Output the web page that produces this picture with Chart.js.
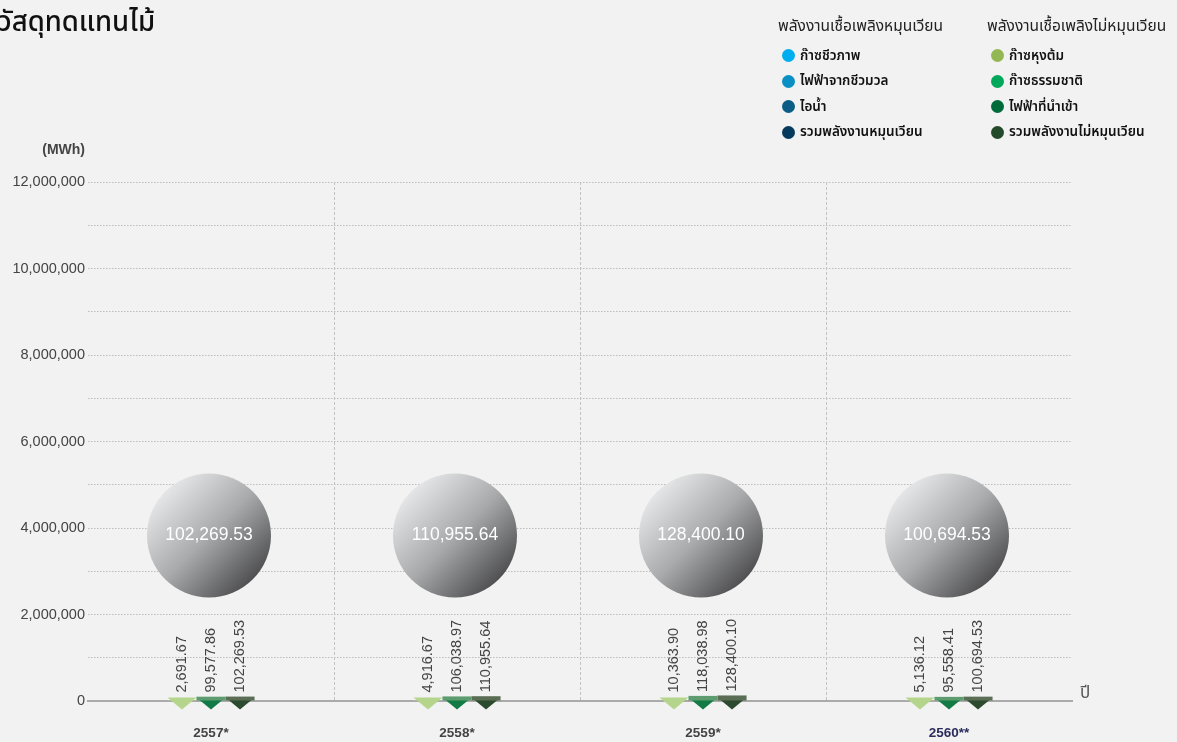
<!DOCTYPE html>
<html lang="th">
<head>
<meta charset="UTF-8">
<title>วัสดุทดแทนไม้</title>
<script src="https://cdn.jsdelivr.net/npm/chart.js@4.4.1/dist/chart.umd.min.js"></script>
<style>
  html, body { margin: 0; padding: 0; background: #f2f2f2; }
  body { width: 1177px; height: 742px; position: relative; overflow: hidden;
         font-family: "Noto Sans Thai", "Noto Sans", sans-serif; }
  #wrap { position: absolute; left: 0; top: 0; width: 1177px; height: 742px; }
  h1 { position: absolute; left: -2px; top: 6px; margin: 0; font-size: 27.5px; line-height: 34px;
       font-weight: 500; color: #111; z-index: 2; }
  .lg { position: absolute; top: 17px; z-index: 2; }
  .lg h2 { margin: 0 0 6px; font-size: 15.5px; line-height: 20px; font-weight: 400; color: #222; white-space: nowrap; }
  .lg ul { list-style: none; margin: 0; padding: 0 0 0 4px; }
  .lg li { height: 25.5px; display: flex; align-items: center; font-size: 13.5px; font-weight: 600; color: #111; white-space: nowrap; }
  .lg li i { display: inline-block; width: 13px; height: 13px; border-radius: 50%; margin-right: 5px; }
</style>
</head>
<body>
<h1>วัสดุทดแทนไม้</h1>
<div class="lg" id="lg1" style="left:778px"></div>
<div class="lg" id="lg2" style="left:987px"></div>
<div id="wrap"><canvas id="chart" width="1177" height="742"></canvas></div>
<script>
// ปี
var years = ['2557*', '2558*', '2559*', '2560**'];

// legend
var renewableTitle = 'พลังงานเชื้อเพลิงหมุนเวียน';
var renewableNames = ['ก๊าซชีวภาพ', 'ไฟฟ้าจากชีวมวล', 'ไอน้ำ', 'รวมพลังงานหมุนเวียน'];
var renewableColors = ['#00aeef', '#0a8fc4', '#0b5d86', '#063a5c'];
var nonRenewableTitle = 'พลังงานเชื้อเพลิงไม่หมุนเวียน';
var nonRenewableNames = ['ก๊าซหุงต้ม', 'ก๊าซธรรมชาติ', 'ไฟฟ้าที่นำเข้า', 'รวมพลังงานไม่หมุนเวียน'];
var nonRenewableColors = ['#93b853', '#00a85a', '#006b3a', '#234a2a'];

// MWh
var lpg = [2691.67, 4916.67, 10363.90, 5136.12];
var importedPower = [99577.86, 106038.97, 118038.98, 95558.41];
var totalNonRenewable = [102269.53, 110955.64, 128400.10, 100694.53];

var yMax = 12000000;
var yStep = 1000000;

function fillLegend(id, title, names, colors) {
    var el = document.getElementById(id);
    var html = '<h2>' + title + '</h2><ul>';
    for (var i = 0; i < names.length; i++) {
        html += '<li><i style="background:' + colors[i] + '"></i>' + names[i] + '</li>';
    }
    el.innerHTML = html + '</ul>';
}
fillLegend('lg1', renewableTitle, renewableNames, renewableColors);
fillLegend('lg2', nonRenewableTitle, nonRenewableNames, nonRenewableColors);

function fmt(v) {
    return v.toLocaleString('en-US', {minimumFractionDigits: 2, maximumFractionDigits: 2});
}

var numFont = '"Liberation Sans", Arial, sans-serif';

var decor = {
    id: 'decor',
    beforeDatasetsDraw: function(chart) {
        var ctx = chart.ctx, area = chart.chartArea, x = chart.scales.x;
        // วงกลมยอดรวม
        var cy = area.top + (area.bottom - area.top) * 0.681;
        var r = 62;
        for (var i = 0; i < years.length; i++) {
            var cx = x.getPixelForValue(i) - 2;
            var g = ctx.createLinearGradient(cx - r * 0.75, cy - r * 0.75, cx + r * 0.75, cy + r * 0.75);
            g.addColorStop(0, '#e8e9eb');
            g.addColorStop(0.5, '#a9aaac');
            g.addColorStop(1, '#4b4b4d');
            ctx.save();
            ctx.beginPath();
            ctx.arc(cx, cy, r, 0, Math.PI * 2);
            ctx.fillStyle = g;
            ctx.fill();
            ctx.fillStyle = '#fff';
            ctx.font = '17.5px ' + numFont;
            ctx.textAlign = 'center';
            ctx.textBaseline = 'middle';
            ctx.fillText(fmt(totalNonRenewable[i]), cx, cy);
            ctx.restore();
        }
        // สามเหลี่ยมใต้แกน
        chart.data.datasets.forEach(function(ds, di) {
            var meta = chart.getDatasetMeta(di);
            meta.data.forEach(function(el) {
                var w = el.width, b = el.base;
                ctx.save();
                ctx.beginPath();
                ctx.moveTo(el.x - w / 2, b - 3);
                ctx.lineTo(el.x + w / 2, b - 3);
                ctx.lineTo(el.x, b + 9);
                ctx.closePath();
                ctx.fillStyle = ds.triColor;
                ctx.fill();
                ctx.restore();
            });
        });
    },
    afterDatasetsDraw: function(chart) {
        var ctx = chart.ctx, area = chart.chartArea;
        chart.data.datasets.forEach(function(ds, di) {
            var meta = chart.getDatasetMeta(di);
            meta.data.forEach(function(el, i) {
                ctx.save();
                ctx.translate(el.x, Math.min(el.y - 4, el.base - 8));
                ctx.rotate(-Math.PI / 2);
                ctx.font = '14.5px ' + numFont;
                ctx.fillStyle = '#444';
                ctx.textAlign = 'left';
                ctx.textBaseline = 'middle';
                ctx.fillText(fmt(ds.data[i]), 0, 0);
                ctx.restore();
            });
        });
        ctx.save();
        ctx.fillStyle = '#444';
        ctx.font = '600 14px ' + numFont;
        ctx.textAlign = 'right';
        ctx.textBaseline = 'middle';
        ctx.fillText('(MWh)', area.left - 3, area.top - 32);
        ctx.font = '17px "Noto Sans Thai", "Noto Sans", sans-serif';
        ctx.fillStyle = '#555';
        ctx.textAlign = 'left';
        ctx.fillText('ปี', area.right + 8, area.bottom - 6);
        ctx.restore();
    }
};

new Chart(document.getElementById('chart'), {
    type: 'bar',
    data: {
        labels: years,
        datasets: [
            {label: nonRenewableNames[0], data: lpg, backgroundColor: '#b5d58c', triColor: '#b5d58c'},
            {label: nonRenewableNames[2], data: importedPower, backgroundColor: '#5d9c6e', triColor: '#117a45'},
            {label: nonRenewableNames[3], data: totalNonRenewable, backgroundColor: '#5b6e55', triColor: '#2c4b2e'}
        ]
    },
    options: {
        responsive: false,
        animation: false,
        categoryPercentage: 0.354,
        barPercentage: 1,
        layout: {padding: {top: 182, right: 105, left: 0, bottom: 0}},
        plugins: {legend: {display: false}, tooltip: {enabled: false}},
        scales: {
            x: {
                offset: true,
                grid: {
                    offset: true,
                    drawTicks: false,
                    color: function(c) { return (c.type === 'tick' && c.index > 0) ? '#c2c2c2' : 'transparent'; }
                },
                border: {color: '#aaa', width: 2, dash: [3, 2]},
                ticks: {
                    padding: 24,
                    color: function(c) { return c.index === 3 ? '#2b2d5c' : '#444'; },
                    font: {family: numFont, size: 13.5, weight: 'bold'}
                },
                afterFit: function(s) { s.height = 41; }
            },
            y: {
                min: 0,
                max: yMax,
                grid: {drawTicks: false, color: '#bdbdbd', lineWidth: 1},
                border: {display: false, dash: [1.5, 1.5]},
                ticks: {
                    stepSize: yStep,
                    padding: 3,
                    color: '#444',
                    font: {family: numFont, size: 14.5},
                    callback: function(v) { return v % (2 * yStep) === 0 ? v.toLocaleString('en-US') : ''; }
                },
                afterFit: function(s) { s.width = 88; }
            }
        }
    },
    plugins: [decor]
});
</script>
</body>
</html>
